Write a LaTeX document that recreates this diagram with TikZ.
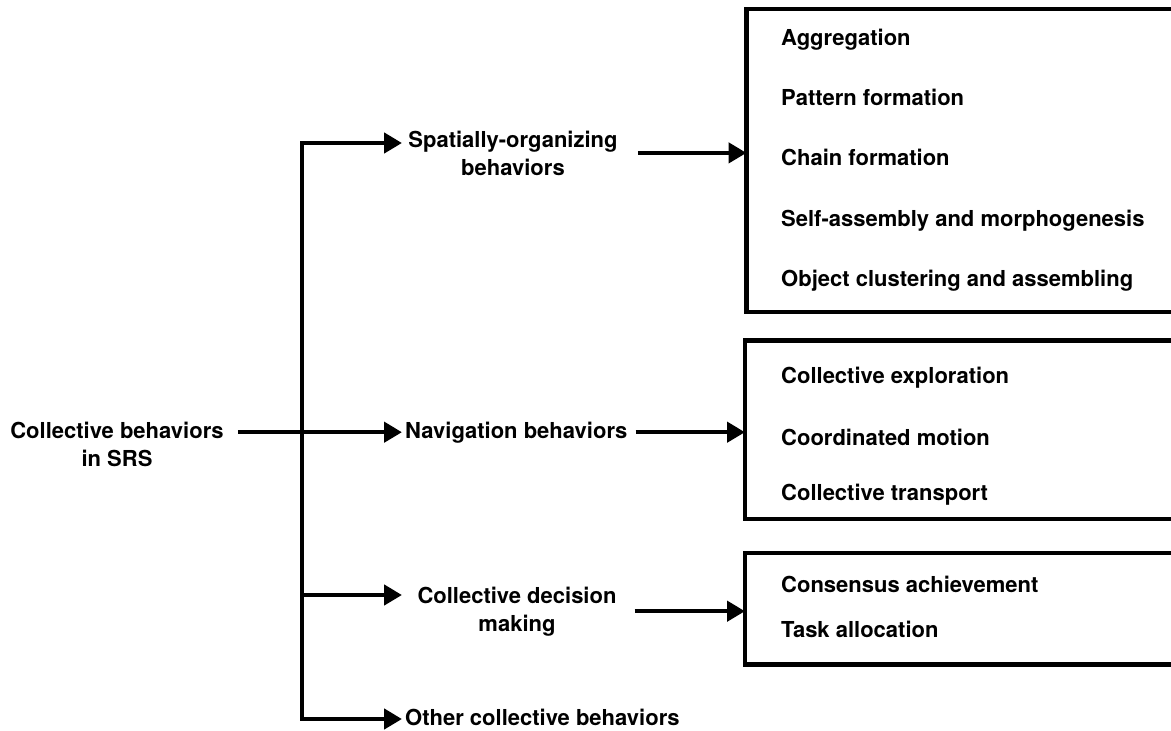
\documentclass[tikz,border=0pt]{standalone}
\usepackage{fontspec}
\setmainfont{TeX Gyre Heros}
\usetikzlibrary{arrows.meta}
\tikzset{
  lbl/.style={font=\fontsize{22}{28}\selectfont\bfseries, inner xsep=3pt, inner ysep=0pt},
  item/.style={lbl, anchor=base west, inner sep=0pt},
  listbox/.style={draw, line width=4.5pt, anchor=north west, inner sep=0pt, outer sep=0pt, minimum width=460pt},
  link/.style={line width=4.5pt}
}

\begin{document}
\begin{tikzpicture}[x=1pt, y=-1pt, >={Triangle[length=18pt,width=20pt]}]
    \path[use as bounding box, clip] (0,0) rectangle (1171,731);
    \node[lbl, anchor=base, align=center, inner xsep=14pt] (root) at (117,466) {Collective behaviors\\in SRS};
    \node[lbl, anchor=base west] (nav) at (402,438) {Navigation behaviors};
    \node[lbl, anchor=base, align=center, inner xsep=20pt] (spatial) at (513,175) {Spatially-organizing\\behaviors};
    \node[lbl, anchor=base, align=center, inner xsep=18pt] (decision) at (517,631) {Collective decision\\making};
    \node[lbl, anchor=base west] (other) at (402,725) {Other collective behaviors};
    \node[listbox, minimum height=303pt] (box1) at (746.5,9) {};
    \node[listbox, minimum height=178.5pt] (box2) at (745,340.5) {};
    \node[listbox, minimum height=111.5pt] (box3) at (745,553) {};
    \foreach \y/\t [count=\i] in {45/Aggregation, 105/Pattern formation, 165/Chain formation, 226/Self-assembly and morphogenesis, 286/Object clustering and assembling} {
      \node[item] (spat\i) at (781,\y) {\t};
    }
    \foreach \y/\t [count=\i] in {383/Collective exploration, 445/Coordinated motion, 500/Collective transport} {
      \node[item] (navi\i) at (781,\y) {\t};
    }
    \foreach \y/\t [count=\i] in {592/Consensus achievement, 637/Task allocation} {
      \node[item] (deci\i) at (781,\y) {\t};
    }
    \coordinate (t1) at (302,143);
    \coordinate (t3) at (302,595);
    \coordinate (t4) at (302,719);
    \draw[link, <->] (t1 -| nav.west) -- (t1) -- (t4) -- (t4 -| nav.west);
    \draw[link, ->] (t3) -- (t3 -| nav.west);
    \draw[link, ->] (root.east |- nav.west) -- (nav.west);
    \draw[link, ->] (spatial.east) -- (spatial.east -| box1.west);
    \draw[link, ->] ([xshift=5pt]nav.east) -- (nav.east -| box2.west);
    \draw[link, ->] (decision.east) -- (decision.east -| box3.west);
\end{tikzpicture}
\end{document}
